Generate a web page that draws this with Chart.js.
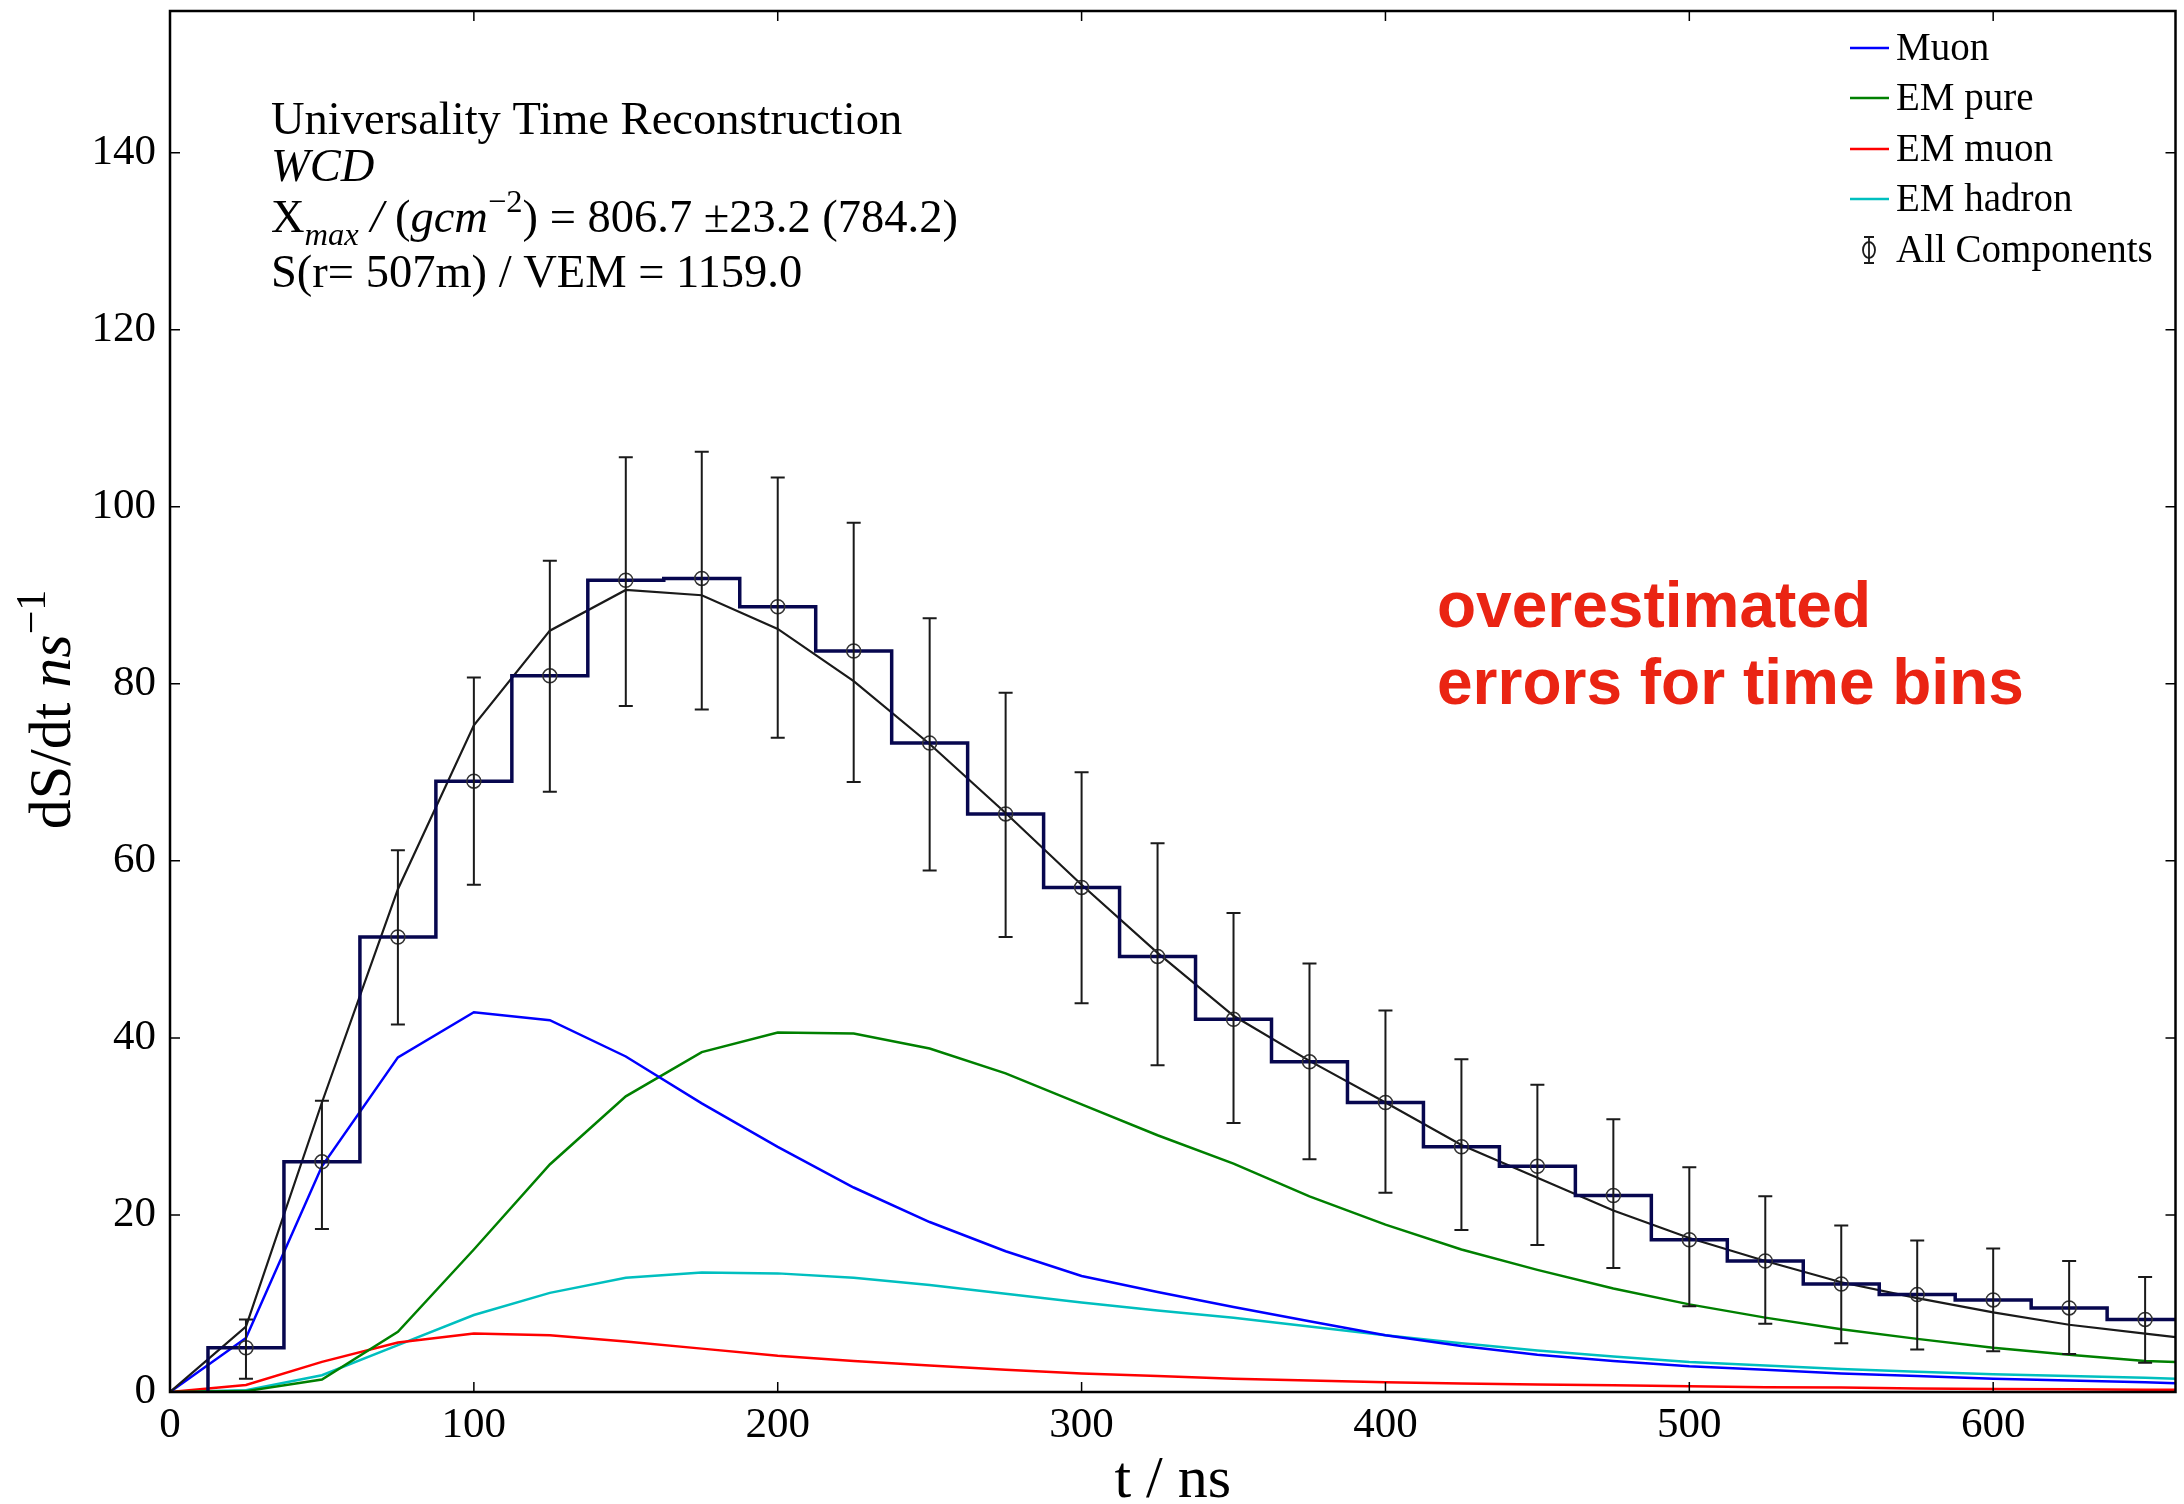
<!DOCTYPE html>
<html>
<head>
<meta charset="utf-8">
<title>Universality Time Reconstruction</title>
<script src="https://cdn.jsdelivr.net/npm/chart.js@4.4.1/dist/chart.umd.min.js"></script>
<style>
    html, body { margin: 0; padding: 0; background: #fff; }
    #wrap { width: 2184px; height: 1504px; }
</style>
</head>
<body>
<div id="wrap"><canvas id="traceChart" width="2184" height="1504"></canvas></div>
<script>
// time points of the component curves (ns), last one is the plot edge
const tLine = [0, 25, 50, 75, 100, 125, 150, 175, 200, 225, 250, 275, 300, 325,
               350, 375, 400, 425, 450, 475, 500, 525, 550, 575, 600, 625, 650, 660];
const muon     = [0, 6.1, 25.5, 37.8, 42.9, 42.0, 37.9, 32.6, 27.7, 23.1, 19.2, 15.9, 13.1, 11.3,
                  9.6, 8.0, 6.4, 5.2, 4.2, 3.5, 2.9, 2.5, 2.1, 1.8, 1.5, 1.3, 1.1, 1.0];
const emPure   = [0, 0.1, 1.4, 6.8, 16.1, 25.7, 33.4, 38.4, 40.6, 40.5, 38.8, 36.0, 32.5, 29.0,
                  25.8, 22.1, 18.9, 16.1, 13.8, 11.7, 9.9, 8.4, 7.1, 6.0, 5.0, 4.2, 3.5, 3.4];
const emMuon   = [0, 0.8, 3.4, 5.6, 6.6, 6.4, 5.7, 4.9, 4.1, 3.5, 3.0, 2.5, 2.1, 1.8,
                  1.5, 1.3, 1.1, 0.95, 0.85, 0.75, 0.65, 0.55, 0.5, 0.4, 0.35, 0.3, 0.25, 0.25];
const emHadron = [0, 0.2, 1.9, 5.3, 8.7, 11.2, 12.9, 13.5, 13.4, 12.9, 12.1, 11.1, 10.1, 9.2,
                  8.4, 7.4, 6.4, 5.5, 4.7, 4.0, 3.4, 3.0, 2.6, 2.3, 2.0, 1.8, 1.6, 1.5];
const totalFit = [0, 7.4, 32.7, 56.8, 75.3, 86.0, 90.6, 90.0, 86.2, 80.3, 73.2, 65.4, 57.3, 49.6,
                  42.5, 37.4, 32.7, 27.9, 24.2, 20.5, 17.4, 14.8, 12.4, 10.6, 9.0, 7.6, 6.6, 6.2];

// time bins of the measured trace (bin centres, ns)
const binWidth = 25;
const tBins = [25, 50, 75, 100, 125, 150, 175, 200, 225, 250, 275, 300, 325,
               350, 375, 400, 425, 450, 475, 500, 525, 550, 575, 600, 625, 650];
const allComp = [5.0, 26.0, 51.4, 69.0, 80.9, 91.7, 91.9, 88.7, 83.7, 73.3, 65.3, 57.0, 49.2,
                 42.1, 37.3, 32.7, 27.7, 25.5, 22.2, 17.2, 14.8, 12.2, 11.0, 10.4, 9.5, 8.2];
const errHi   = [8.2, 32.9, 61.2, 80.7, 93.9, 105.6, 106.2, 103.3, 98.2, 87.4, 79.0, 70.0, 62.0,
                 54.1, 48.4, 43.1, 37.6, 34.7, 30.8, 25.4, 22.1, 18.8, 17.1, 16.2, 14.8, 13.0];
const errLo   = [1.5, 18.4, 41.5, 57.3, 67.8, 77.5, 77.1, 73.9, 68.9, 58.9, 51.4, 43.9, 36.9,
                 30.4, 26.3, 22.5, 18.3, 16.6, 14.0, 9.7, 7.7, 5.5, 4.8, 4.6, 4.3, 3.3];

// axis ticks
const xTicks = [0, 100, 200, 300, 400, 500, 600];
const yTicks = [0, 20, 40, 60, 80, 100, 120, 140];

const SERIF = '"Liberation Serif", "Times New Roman", serif';
const SANS = '"Liberation Sans", Arial, sans-serif';

function toPoints(xs, ys) {
    return xs.map((x, i) => ({ x: x, y: ys[i] }));
}

// histogram outline: one point per left bin edge, horizontal then vertical
function stepPoints() {
    const pts = [{ x: tBins[0] - binWidth / 2, y: 0 }];
    tBins.forEach((t, i) => pts.push({ x: t - binWidth / 2, y: allComp[i] }));
    const last = tBins.length - 1;
    pts.push({ x: tBins[last] + binWidth / 2, y: allComp[last] });
    return pts;
}

// text with italic / sub / superscript parts
function richWidth(ctx, parts, size) {
    let w = 0;
    parts.forEach(p => {
        const s = (p.sub || p.sup) ? size * 0.7 : size;
        ctx.font = (p.it ? 'italic ' : '') + s + 'px ' + SERIF;
        w += ctx.measureText(p.t).width;
    });
    return w;
}

function drawRich(ctx, x, y, parts, size) {
    let cx = x;
    parts.forEach(p => {
        const s = (p.sub || p.sup) ? size * 0.7 : size;
        ctx.font = (p.it ? 'italic ' : '') + s + 'px ' + SERIF;
        const dy = p.sub ? size * 0.28 : (p.sup ? -size * 0.42 : 0);
        ctx.fillText(p.t, cx, y + dy);
        cx += ctx.measureText(p.t).width;
    });
}

const infoLines = [
    [{ t: 'Universality Time Reconstruction' }],
    [{ t: 'WCD', it: true }],
    [{ t: 'X' }, { t: 'max', it: true, sub: true }, { t: ' /', it: true }, { t: ' (' },
     { t: 'gcm', it: true }, { t: '\u22122', sup: true }, { t: ') = 806.7 \u00b123.2 (784.2)' }],
    [{ t: 'S(r= 507m) / VEM = 1159.0' }]
];

const framePlugin = {
    id: 'frame',
    afterDatasetsDraw(chart) {
        const ctx = chart.ctx;
        const a = chart.chartArea;
        const xs = chart.scales.x;
        const ys = chart.scales.y;
        ctx.save();

        // error bars of the measured bins
        ctx.strokeStyle = '#1a1a1a';
        ctx.lineWidth = 2;
        tBins.forEach((t, i) => {
            const px = xs.getPixelForValue(t);
            const top = ys.getPixelForValue(errHi[i]);
            const bot = ys.getPixelForValue(errLo[i]);
            ctx.beginPath();
            ctx.moveTo(px, top); ctx.lineTo(px, bot);
            ctx.moveTo(px - 7, top); ctx.lineTo(px + 7, top);
            ctx.moveTo(px - 7, bot); ctx.lineTo(px + 7, bot);
            ctx.stroke();
        });

        // box and inward ticks on all four sides
        ctx.strokeStyle = '#000';
        ctx.lineWidth = 2.5;
        ctx.strokeRect(a.left, a.top, a.right - a.left, a.bottom - a.top);
        ctx.lineWidth = 1.5;
        ctx.beginPath();
        xTicks.forEach(v => {
            const px = xs.getPixelForValue(v);
            ctx.moveTo(px, a.bottom); ctx.lineTo(px, a.bottom - 10);
            ctx.moveTo(px, a.top); ctx.lineTo(px, a.top + 10);
        });
        yTicks.forEach(v => {
            const py = ys.getPixelForValue(v);
            ctx.moveTo(a.left, py); ctx.lineTo(a.left + 10, py);
            ctx.moveTo(a.right, py); ctx.lineTo(a.right - 10, py);
        });
        ctx.stroke();
        ctx.restore();
    },
    afterDraw(chart) {
        const ctx = chart.ctx;
        const a = chart.chartArea;
        ctx.save();
        ctx.fillStyle = '#000';
        ctx.textBaseline = 'alphabetic';
        ctx.textAlign = 'left';

        // info block, top left
        const baselines = [134, 181, 232, 287];
        infoLines.forEach((parts, i) => drawRich(ctx, 271, baselines[i], parts, 46.5));

        // legend, top right
        const rowY = [48, 98, 149, 199, 250];
        let row = 0;
        chart.data.datasets.forEach(ds => {
            if (!ds.inLegend) return;
            const y = rowY[row++];
            ctx.strokeStyle = ds.borderColor;
            ctx.lineWidth = 2.5;
            ctx.beginPath();
            ctx.moveTo(1850, y); ctx.lineTo(1889, y);
            ctx.stroke();
            ctx.font = '39px ' + SERIF;
            ctx.fillStyle = '#000';
            ctx.textBaseline = 'middle';
            ctx.fillText(ds.label, 1896, y + 2);
        });
        // error bar marker entry
        const ey = rowY[row];
        ctx.strokeStyle = '#1a1a1a';
        ctx.lineWidth = 1.8;
        ctx.beginPath();
        ctx.moveTo(1869, ey - 13); ctx.lineTo(1869, ey + 13);
        ctx.moveTo(1864, ey - 13); ctx.lineTo(1874, ey - 13);
        ctx.moveTo(1864, ey + 13); ctx.lineTo(1874, ey + 13);
        ctx.stroke();
        ctx.beginPath();
        ctx.ellipse(1869, ey, 6, 8, 0, 0, Math.PI * 2);
        ctx.stroke();
        ctx.font = '39px ' + SERIF;
        ctx.fillText('All Components', 1896, ey + 2);

        // red remark
        ctx.textBaseline = 'alphabetic';
        ctx.fillStyle = '#ea2413';
        ctx.font = 'bold 64px ' + SANS;
        ctx.fillText('overestimated', 1437, 627);
        ctx.fillText('errors for time bins', 1437, 704);

        // axis titles
        ctx.fillStyle = '#000';
        ctx.font = '60px ' + SERIF;
        ctx.textAlign = 'center';
        ctx.fillText('t / ns', (a.left + a.right) / 2, 1497);

        const yTitle = [{ t: 'dS/dt ' }, { t: 'ns', it: true }, { t: '\u22121', sup: true }];
        const w = richWidth(ctx, yTitle, 60);
        ctx.textAlign = 'left';
        ctx.translate(70, (a.top + a.bottom) / 2 + 8 + w / 2);
        ctx.rotate(-Math.PI / 2);
        drawRich(ctx, 0, 0, yTitle, 60);
        ctx.restore();
    }
};

const lineStyle = { borderWidth: 2.5, pointRadius: 0, tension: 0, fill: false };

new Chart(document.getElementById('traceChart'), {
    type: 'line',
    data: {
        datasets: [
            Object.assign({ label: 'Muon', data: toPoints(tLine, muon), borderColor: '#0000ff', order: 5, inLegend: true }, lineStyle),
            Object.assign({ label: 'EM pure', data: toPoints(tLine, emPure), borderColor: '#008000', order: 6, inLegend: true }, lineStyle),
            Object.assign({ label: 'EM muon', data: toPoints(tLine, emMuon), borderColor: '#ff0000', order: 7, inLegend: true }, lineStyle),
            Object.assign({ label: 'EM hadron', data: toPoints(tLine, emHadron), borderColor: '#00bfbf', order: 8, inLegend: true }, lineStyle),
            Object.assign({ label: 'Sum', data: toPoints(tLine, totalFit), borderColor: '#1a1a1a', order: 3 }, lineStyle, { borderWidth: 2.2 }),
            {
                label: 'All Components (trace)',
                data: stepPoints(),
                borderColor: '#07074f',
                borderWidth: 3.5,
                pointRadius: 0,
                stepped: 'before',
                fill: false,
                order: 2
            },
            {
                label: 'All Components',
                data: toPoints(tBins, allComp),
                showLine: false,
                pointRadius: 7,
                pointBorderWidth: 1.5,
                pointBorderColor: '#333',
                pointBackgroundColor: 'rgba(0,0,0,0)',
                order: 1
            }
        ]
    },
    options: {
        responsive: false,
        animation: false,
        devicePixelRatio: 1,
        layout: { padding: { top: 11, right: 4, left: 0, bottom: 0 } },
        plugins: {
            legend: { display: false },
            tooltip: { enabled: false }
        },
        scales: {
            x: {
                type: 'linear',
                min: 0,
                max: 660,
                afterFit: s => {
                    s.height = 112;
                    s.paddingLeft = 0;
                    s.paddingRight = 0;
                },
                afterBuildTicks: s => { s.ticks = xTicks.map(v => ({ value: v })); },
                grid: { display: false, drawTicks: false },
                border: { display: false },
                ticks: {
                    padding: 8,
                    maxRotation: 0,
                    autoSkip: false,
                    color: '#000',
                    font: { family: SERIF, size: 43 }
                }
            },
            y: {
                type: 'linear',
                min: 0,
                max: 156,
                afterFit: s => {
                    s.width = 170;
                    s.paddingTop = 0;
                    s.paddingBottom = 0;
                },
                afterBuildTicks: s => { s.ticks = yTicks.map(v => ({ value: v })); },
                grid: { display: false, drawTicks: false },
                border: { display: false },
                ticks: {
                    padding: 14,
                    autoSkip: false,
                    color: '#000',
                    font: { family: SERIF, size: 43 }
                }
            }
        }
    },
    plugins: [framePlugin]
});
</script>
</body>
</html>
